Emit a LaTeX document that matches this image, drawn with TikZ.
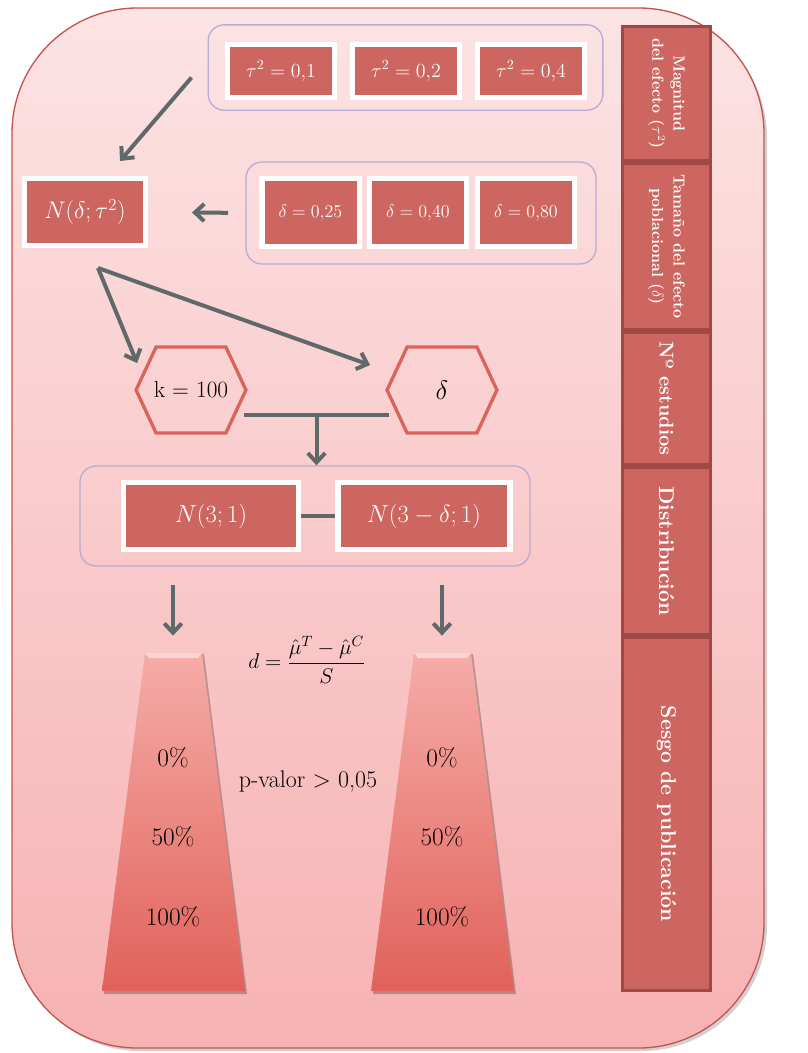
\RequirePackage{fix-cm}
\documentclass[tikz,border=0pt]{standalone}
\usepackage{amsmath}
\definecolor{bgtop}{RGB}{252,227,228}
\definecolor{bgbot}{RGB}{247,178,178}
\definecolor{outline}{RGB}{196,84,80}
\definecolor{boxred}{RGB}{205,102,96}
\definecolor{sideedge}{RGB}{160,72,68}
\definecolor{grpline}{RGB}{184,172,212}
\definecolor{arrgray}{RGB}{95,105,105}
\definecolor{hexred}{RGB}{217,100,92}
\definecolor{trtop}{RGB}{246,172,168}
\definecolor{trbot}{RGB}{224,98,90}
\usetikzlibrary{arrows.meta, positioning, calc, shadows}

\begin{document}
\begin{tikzpicture}[x=0.75pt, y=-0.75pt,
    rbox/.style={draw=white, line width=4pt, fill=boxred, text=white, inner sep=0pt,
      drop shadow={shadow xshift=0.5pt, shadow yshift=-1.5pt, opacity=0.35}},
    grp/.style={draw=grpline, line width=1pt, rounded corners=12pt},
    arr/.style={draw=arrgray, line width=3pt, -{Straight Barb[length=7pt, width=13pt]}},
    link/.style={draw=arrgray, line width=3pt},
    hexbox/.style={minimum width=82pt, minimum height=64pt, inner sep=0pt},
    hexedge/.style={draw=hexred, line width=2.5pt, line join=miter},
    side/.style={draw=sideedge, line width=2.25pt, fill=boxred, text=white, rotate=-90,
      minimum height=66pt, align=center, inner sep=2pt},
    pct/.style={font=\fontsize{19}{22}\selectfont}
  ]
  \useasboundingbox (0,0) rectangle (807,1053);

  % Background panel
  \fill[black, opacity=0.18, rounded corners=94pt] (15,12) rectangle (767,1051);
  \shadedraw[top color=bgtop, bottom color=bgbot, draw=outline, line width=1pt, rounded corners=94pt]
    (12,8) rectangle (764,1048);

  % Side column
  \node[side, minimum width=100.5pt, font=\bfseries\fontsize{12}{16}\selectfont] (sMag) at (666.5,93.5)
    {Magnitud\\del efecto ($\tau^2$)};
  \node[side, minimum width=124.5pt, font=\bfseries\fontsize{12}{16}\selectfont] (sTam) at (666.5,246.5)
    {Tama\~no del efecto\\poblacional ($\delta$)};
  \node[side, minimum width=99pt, font=\bfseries\fontsize{15}{17}\selectfont] (sNum) at (666.5,398.5)
    {N\textordmasculine{} estudios};
  \node[side, minimum width=125.25pt, font=\bfseries\fontsize{16}{18}\selectfont] (sDis) at (666.5,551)
    {Distribuci\'on};
  \node[side, minimum width=264.75pt, font=\bfseries\fontsize{16}{18}\selectfont] (sSes) at (666.5,814)
    {Sesgo de publicaci\'on};

  % Groups
  \node[grp, minimum width=296pt, minimum height=64pt] (tgrp) at (405.5,67.5) {};
  \node[grp, minimum width=262.5pt, minimum height=76.5pt] (dlgrp) at (421,213) {};
  \node[grp, minimum width=337.5pt, minimum height=75pt] (dgrp) at (305,516) {};

  % Heterogeneity values
  \node[rbox, minimum width=80pt, minimum height=40pt, font=\fontsize{15}{18}\selectfont] (t1) at (281,71) {$\tau^2 = 0{,}1$};
  \node[rbox, minimum width=80pt, minimum height=40pt, font=\fontsize{15}{18}\selectfont] (t2) at (406,71) {$\tau^2 = 0{,}2$};
  \node[rbox, minimum width=80pt, minimum height=40pt, font=\fontsize{15}{18}\selectfont] (t4) at (531,71) {$\tau^2 = 0{,}4$};

  % Effect sizes
  \node[rbox, minimum width=73pt, minimum height=51pt, font=\fontsize{13.5}{16}\selectfont] (d25) at (310.5,212.5) {$\delta = 0{,}25$};
  \node[rbox, minimum width=73pt, minimum height=51pt, font=\fontsize{13.5}{16}\selectfont] (d40) at (418,212.5) {$\delta = 0{,}40$};
  \node[rbox, minimum width=73pt, minimum height=51pt, font=\fontsize{13.5}{16}\selectfont] (d80) at (526,212.5) {$\delta = 0{,}80$};

  \node[rbox, minimum width=90.5pt, minimum height=50pt, font=\fontsize{18}{22}\selectfont] (ndt) at (85,212) {$N(\delta;\tau^2)$};

  % Hexagons
  \node[hexbox, font=\fontsize{17.5}{20}\selectfont] (hk) at (191,390) {k = 100};
  \node[hexbox, font=\fontsize{20}{24}\selectfont] (hd) at (442,390) {$\delta$};
  \foreach \h in {hk,hd}
    \draw[hexedge] (\h.west) -- ($(\h.north west)+(20,0)$) -- ($(\h.north east)+(-20,0)$)
      -- (\h.east) -- ($(\h.south east)+(-20,0)$) -- ($(\h.south west)+(20,0)$) -- cycle;

  % Distributions
  \draw[link] (211,516) -- (424,516);
  \node[rbox, minimum width=131pt, minimum height=50pt, font=\fontsize{18.5}{22}\selectfont] (n31) at (211,516) {$N(3;1)$};
  \node[rbox, minimum width=129pt, minimum height=50pt, font=\fontsize{18.5}{22}\selectfont] (n3d) at (424,516) {$N(3-\delta;1)$};

  % Arrows
  \draw[arr] ($(tgrp.west)+(-16,10)$) -- ($(ndt.north)+(35,-15)$);
  \draw[arr, shorten <=13pt, shorten >=33pt] (dlgrp.west) -- (ndt.east);
  \draw[arr] ($(ndt.south)+(13,20)$) -- ($(hk.north west)+(1,16)$);
  \draw[arr] ($(ndt.south)+(13,20)$) -- ($(hd.north west)+(-17,18)$);
  \draw[link] ($(hk.east)+(-2,25)$) -- ($(hd.west)+(2,25)$);
  \coordinate (tj) at ($(hk.east)!0.5!(hd.west)+(0,25)$);
  \draw[arr] (tj) -- (tj |- dgrp.north);

  % Publication bias funnels
  \coordinate (tl) at (173,653);
  \coordinate (tr) at (442,653);
  \foreach \c in {tl,tr} {
    \fill[black, opacity=0.25] ($(\c)+(-26,1)$) -- ($(\c)+(31,1)$) -- ($(\c)+(74,341)$) -- ($(\c)+(-69,341)$) -- cycle;
    \shade[top color=trtop, bottom color=trbot] ($(\c)+(-28,0)$) -- ($(\c)+(29,0)$) -- ($(\c)+(72,338)$) -- ($(\c)+(-71,338)$) -- cycle;
    \fill[white, opacity=0.5] ($(\c)+(-28,0)$) -- ($(\c)+(29,0)$) -- ($(\c)+(25,5)$) -- ($(\c)+(-24,5)$) -- cycle;
    \draw[arr, shorten >=13pt] ($(\c)+(0,-68)$) -- (\c);
  }
  \node[pct] (l0) at (173,758) {0\%};
  \node[pct] (l50) at (173,837) {50\%};
  \node[pct] (l100) at (173,917) {100\%};
  \node[pct] (r0) at (442,758) {0\%};
  \node[pct] (r50) at (442,837) {50\%};
  \node[pct] (r100) at (442,917) {100\%};

  \node[font=\fontsize{16}{19}\selectfont] (dfor) at (307,660) {$d = \dfrac{\hat{\mu}^T - \hat{\mu}^C}{S}$};
  \node[font=\fontsize{18}{21}\selectfont] (pval) at (308,782) {p-valor > 0,05};
\end{tikzpicture}
\end{document}
